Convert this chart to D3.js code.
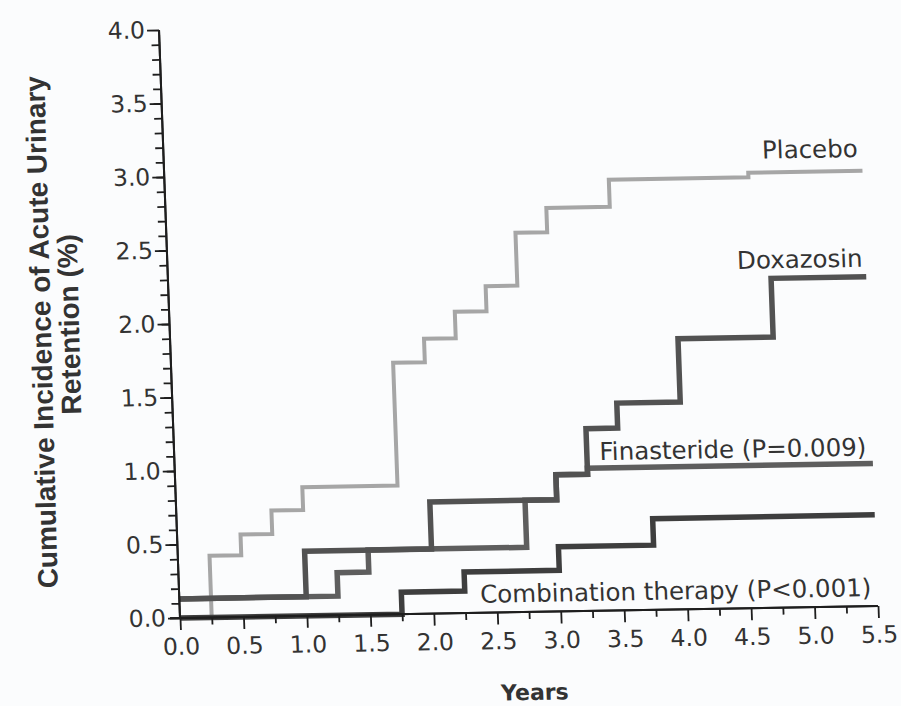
<!DOCTYPE html>
<html>
<head>
<meta charset="utf-8">
<script src="https://cdn.jsdelivr.net/npm/d3@7"></script>
<style>
  html, body { margin: 0; padding: 0; background: #fbfcfd; }
  svg { display: block; }
</style>
</head>
<body>
<svg id="chart" width="901" height="706"></svg>
<script>
// ---------------- data ----------------
const placeboT = [0, 0.25, 0.5, 0.75, 1.0, 1.75, 2.0, 2.25, 2.5, 2.75, 3.0, 3.5, 4.6, 5.5];
const placeboV = [0, 0.42, 0.56, 0.72, 0.875, 1.71, 1.87, 2.05, 2.22, 2.58, 2.745, 2.93, 2.96, 2.96];

const doxazosinT = [0, 1.0, 2.0, 3.0, 3.25, 3.5, 4.0, 4.75, 5.5];
const doxazosinV = [0.13, 0.44, 0.76, 0.93, 1.24, 1.41, 1.84, 2.24, 2.24];

const finasterideT = [0, 1.25, 1.5, 2.75, 3.0, 3.25, 5.5];
const finasterideV = [0.13, 0.29, 0.44, 0.76, 0.93, 0.97, 0.97];

const combinationT = [0, 1.75, 2.25, 3.0, 3.75, 5.5];
const combinationV = [0, 0.15, 0.28, 0.44, 0.62, 0.62];

const seriesNames = ["Placebo", "Finasteride (P=0.009)", "Doxazosin", "Combination therapy (P<0.001)"];

const xMajorTicks = [0, 0.5, 1.0, 1.5, 2.0, 2.5, 3.0, 3.5, 4.0, 4.5, 5.0, 5.5];
const xMinorTicks = [0.25, 0.75, 1.25, 1.75, 2.25, 2.75, 3.25, 3.75, 4.25, 4.75, 5.25];
const yMajorTicks = [0, 0.5, 1.0, 1.5, 2.0, 2.5, 3.0, 3.5, 4.0];
const yMinorTicks = d3.range(1, 40).map(i => i / 10);

const xTitle = "Years";
const yTitleLines = ["Cumulative Incidence of Acute Urinary", "Retention (%)"];

// ---------------- layout ----------------
const W = 698, H = 588;
const svg = d3.select("#chart");
svg.append("rect").attr("width", 901).attr("height", 706).attr("fill", "#fbfcfd");

const x = d3.scaleLinear().domain([0, 5.5]).range([0, W]);
const y = d3.scaleLinear().domain([0, 4]).range([H, 0]);

// the scanned figure is slightly skewed; reproduce with an affine transform
const g = svg.append("g")
  .attr("transform", `matrix(1,-0.0172,0.0357,1,180,618) translate(0,${-H})`);

const tickFont = "'DejaVu Sans', sans-serif";

// ---------------- series ----------------
const mk = (T, V) => T.map((t, i) => ({ t, v: V[i] }));
const series = [
  { name: seriesNames[0], data: mk(placeboT, placeboV), color: "#a6a6a6", w: 4 },
  { name: seriesNames[1], data: mk(finasterideT, finasterideV), color: "#5e5e5e", w: 5.5 },
  { name: seriesNames[2], data: mk(doxazosinT, doxazosinV), color: "#525252", w: 5.5 },
  { name: seriesNames[3], data: mk(combinationT, combinationV), color: "#3e3e3e", w: 5.5 }
];

const line = d3.line().x(d => x(d.t)).y(d => y(d.v)).curve(d3.curveStepAfter);

series.forEach(s => {
  g.append("path")
    .datum(s.data)
    .attr("d", line)
    .attr("fill", "none")
    .attr("stroke", s.color)
    .attr("stroke-width", s.w)
    .attr("stroke-linejoin", "miter");
});

// ---------------- axes ----------------
const yMinor = g.append("g").call(d3.axisLeft(y).tickValues(yMinorTicks).tickSize(8).tickFormat(""));
const yMajor = g.append("g").call(d3.axisLeft(y).tickValues(yMajorTicks).tickSize(12).tickPadding(2)
  .tickFormat(d3.format(".1f")));
const xMinor = g.append("g").attr("transform", `translate(0,${H})`)
  .call(d3.axisBottom(x).tickValues(xMinorTicks).tickSize(7).tickFormat(""));
const xMajor = g.append("g").attr("transform", `translate(0,${H})`)
  .call(d3.axisBottom(x).tickValues(xMajorTicks).tickSize(12).tickPadding(8)
    .tickFormat(d3.format(".1f")));

[yMinor, yMajor, xMinor, xMajor].forEach(a => {
  a.select(".domain").attr("stroke", "#1e1e1e").attr("stroke-width", 2);
  a.selectAll(".tick line").attr("stroke", "#1e1e1e").attr("stroke-width", 1.8);
  a.selectAll(".tick text").attr("font-family", tickFont).attr("font-size", 23.5).attr("fill", "#333");
});
yMinor.select(".domain").attr("d", `M0,${H}V0`);
yMajor.select(".domain").attr("d", `M0,${H}V0`);
xMinor.select(".domain").attr("d", `M-10,0H${W}`);
xMajor.select(".domain").attr("d", `M-10,0H${W}`);

// ---------------- series labels ----------------
const lab = (text, t, v, dy) => g.append("text")
  .attr("x", x(t)).attr("y", y(v) + dy)
  .attr("text-anchor", "end")
  .attr("font-family", tickFont).attr("font-size", 24.5).attr("fill", "#333")
  .text(text);

lab(seriesNames[0], 5.5, placeboV[placeboV.length - 1], -14).attr("dx", -4);
lab(seriesNames[2], 5.5, doxazosinV[doxazosinV.length - 1], -10).attr("dx", -3);
lab(seriesNames[1], 5.5, finasterideV[finasterideV.length - 1], -8).attr("dx", -6);
lab(seriesNames[3], 5.5, 0, -10).attr("dx", -6);

// ---------------- axis titles ----------------
g.append("text")
  .attr("x", x(2.75) + 3).attr("y", H + 88)
  .attr("text-anchor", "middle")
  .attr("font-family", "'DejaVu Sans', sans-serif").attr("font-weight", "bold")
  .attr("font-size", 22).attr("fill", "#333")
  .text(xTitle);

[[yTitleLines[0], 51, 332], [yTitleLines[1], 79, 324]].forEach(([txt, bx, cy]) => {
  svg.append("text")
    .attr("transform", `translate(${bx},${cy}) rotate(-91.5)`)
    .attr("text-anchor", "middle")
    .attr("font-family", "'Liberation Sans', Arial, sans-serif").attr("font-weight", "bold")
    .attr("font-size", 28).attr("fill", "#333")
    .text(txt);
});
</script>
</body>
</html>
